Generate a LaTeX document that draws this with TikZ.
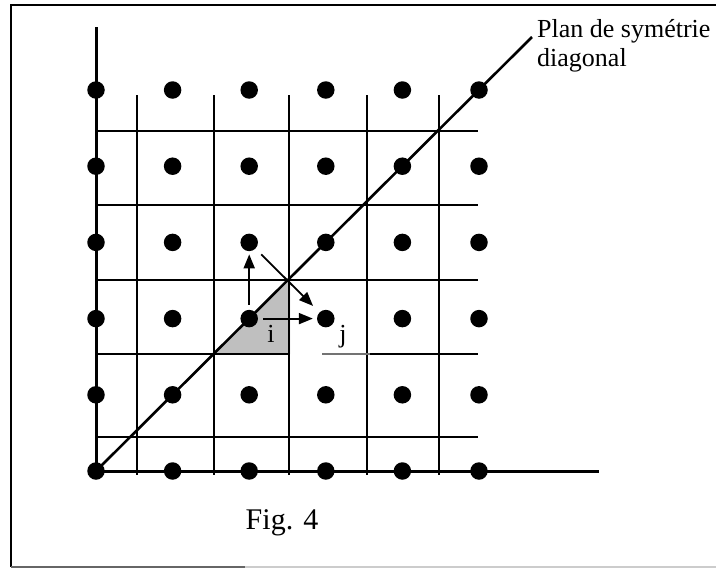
\documentclass[tikz,border=0pt]{standalone}
\usepackage{fontspec}
\setmainfont{Liberation Serif}
\usetikzlibrary{arrows.meta}
\definecolor{tri}{RGB}{191,191,191}
\begin{document}
\begin{tikzpicture}[x=1pt,y=-1pt,
  dot/.style={circle,fill=black,inner sep=0pt,minimum size=17.5pt},
  gridline/.style={line width=1.7pt},
  axisline/.style={line width=3pt},
  diagline/.style={line width=2.6pt},
  arr/.style={line width=1.8pt,-{Triangle[length=14pt,width=11pt]}},
  lbl/.style={font=\fontsize{26}{29}\selectfont,inner sep=0pt},
  framel/.style={line width=2pt},
]
\useasboundingbox (0,0) rectangle (716,568);
% frame
\draw[framel] (716,5) -- (11,5) -- (11,567);
\draw[framel,black!60] (11,566.5) -- (245,566.5);
\draw[framel,black!20] (245,566.5) -- (716,566.5);
% grey triangle
\fill[tri] (214,354) -- (290,354) -- (290,280) -- cycle;
% grid lines
\foreach \x in {137,214,289,367,439} \draw[gridline] (\x,95) -- (\x,475);
\foreach \y in {131,205,280,437} \draw[gridline] (97,\y) -- (478,\y);
\draw[gridline] (97,354) -- (290,354);
\draw[gridline,black!55] (322,354) -- (370,354);
\draw[gridline] (370,354) -- (478,354);
% dots
\foreach \i in {0,...,5}
  \foreach \j in {0,...,5}
    \node[dot] (d\i\j) at ({96+76.6*\i},{471-76.2*\j}) {};
% diagonal plane
\coordinate (dend) at (532,37);
\draw[diagline] (d00.center) -- (dend);
% axes
\coordinate (ytop) at (96,27);
\coordinate (xend) at (599,471);
\draw[axisline] (ytop) -- (d00.center) -- (xend);
% arrows
\draw[arr,shorten <=5pt,shorten >=3pt] (d22) -- (d23);
\draw[arr,shorten <=5pt,shorten >=4pt] (d22) -- (d32);
\draw[arr,shorten <=8pt,shorten >=9pt] (d23) -- (d32);
% labels
\node[lbl] (li) at (271,334) {i};
\node[lbl] (lj) at (343,337) {j};
\node[lbl,anchor=base west,align=left] (plan) at (537,66) {Plan de symétrie\\diagonal};
\node[font=\fontsize{30}{34}\selectfont,inner sep=0pt] (fig) at (282,523) {Fig. 4};
\end{tikzpicture}
\end{document}
